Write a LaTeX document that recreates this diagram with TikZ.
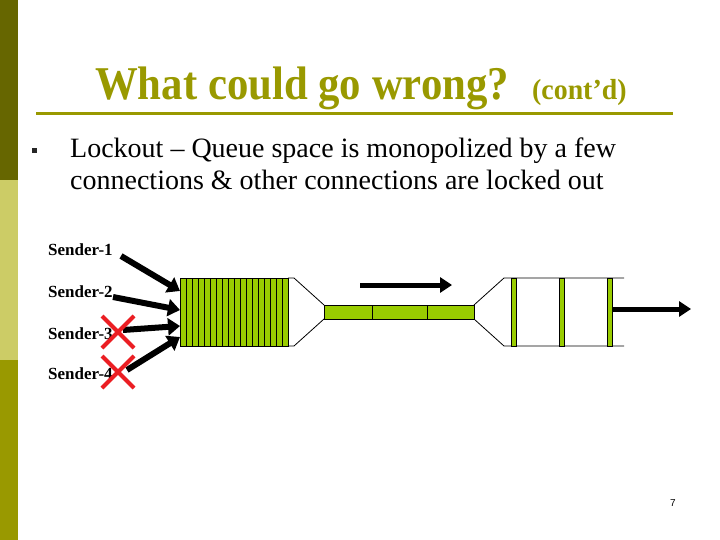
\documentclass[tikz,border=0pt]{standalone}
\usepackage{fontspec}
\setmainfont{Liberation Serif}
\newfontfamily\arialfont{Liberation Sans}
\usetikzlibrary{arrows.meta}
\definecolor{oliveD}{RGB}{102,102,0}
\definecolor{oliveL}{RGB}{204,204,102}
\definecolor{oliveM}{RGB}{153,153,0}
\definecolor{titleC}{RGB}{153,153,0}
\definecolor{qgreen}{RGB}{153,204,0}
\definecolor{xred}{RGB}{235,30,35}
\tikzset{
  bigarrow/.style={line width=5pt, -{Triangle[length=12pt,width=15pt]}},
  sendarrow/.style={line width=6pt, -{Triangle[length=12pt,width=17pt]}},
  crossmark/.style={xred, line width=4pt},
  qline/.style={line width=0.8pt},
  stripe/.style={line width=0.6pt},
  sender/.style={anchor=base west, inner sep=0pt, font=\bfseries\fontsize{17}{17}\selectfont},
  bodytext/.style={anchor=base west, inner sep=0pt, font=\fontsize{28}{33}\selectfont}
}
\begin{document}
\begin{tikzpicture}[x=1pt,y=-1pt]
\useasboundingbox (0,0) rectangle (720,540);
% left bars
\fill[oliveD] (0,0) rectangle (18,180);
\fill[oliveL] (0,180) rectangle (18,360);
\fill[oliveM] (0,360) rectangle (18,540);
% title
\node[anchor=base west, inner sep=0pt, text=titleC, font=\bfseries\fontsize{47}{47}\selectfont] (title) at (95,100) {\scalebox{0.91}[1]{What could go wrong?}};
\node[anchor=base west, inner sep=0pt, text=titleC, font=\bfseries\fontsize{29}{29}\selectfont] (cont) at (532,100) {\scalebox{0.96}[1]{(cont’d)}};
\draw[titleC, line width=3pt] (36,114) -- (673,114);
% bullet
\node[fill=black!85, minimum size=5pt, inner sep=0pt] (bul) at (34,151) {};
\node[bodytext] (line1) at (70,158) {Lockout – Queue space is monopolized by a few};
\node[bodytext] (line2) at (70,190) {connections \& other connections are locked out};
% senders
\node[sender] (s1) at (48,255) {Sender-1};
\node[sender] (s2) at (48,297) {Sender-2};
\node[sender] (s3) at (48,339) {Sender-3};
\node[sender] (s4) at (48,379) {Sender-4};
% queue 1
\draw[qline] (288,278) -- (294,278) -- (324,305);
\draw[qline] (288,346) -- (294,346) -- (324,319);
\draw[qline, fill=qgreen] (180,278) rectangle (288,346);
\foreach \i in {1,...,17} \draw[stripe] (180+6*\i,278) -- (180+6*\i,346);
% pipe
\draw[qline, fill=qgreen] (324,305) rectangle (474,319);
\draw[qline] (372,305) -- (372,319);
\draw[qline] (427,305) -- (427,319);
% queue 2
\draw[qline] (474,305) -- (504,278) -- (624,278);
\draw[qline] (474,319) -- (504,346) -- (624,346);
\draw[qline, fill=qgreen] (511,278) rectangle (516,346);
\draw[qline, fill=qgreen] (559,278) rectangle (564,346);
\draw[qline, fill=qgreen] (607,278) rectangle (612,346);
% coordinates
\coordinate (a1) at (121,256);
\coordinate (a2) at (113,297);
\coordinate (a3) at (123,330);
\coordinate (a4) at (127,370);
\coordinate (q1) at (180,291);
\coordinate (q2) at (180,310);
\coordinate (q3) at (180,326);
\coordinate (q4) at (180,337);
\coordinate (m1) at (360,285);
\coordinate (m2) at (452,285);
\coordinate (o1) at (612,309);
\coordinate (o2) at (691,309);
% arrows
\draw[sendarrow] (a1) -- (q1);
\draw[sendarrow] (a2) -- (q2);
\draw[sendarrow] (a3) -- (q3);
\draw[sendarrow] (a4) -- (q4);
\draw[bigarrow] (m1) -- (m2);
\draw[bigarrow] (o1) -- (o2);
% crosses
\draw[crossmark] (102,316) -- (134,348) (102,348) -- (134,316);
\draw[crossmark] (102,356) -- (134,388) (102,388) -- (134,356);
% page number
\node[anchor=base, inner sep=0pt, font=\arialfont\fontsize{10}{10}\selectfont] (pg) at (673,506) {7};
\end{tikzpicture}
\end{document}
